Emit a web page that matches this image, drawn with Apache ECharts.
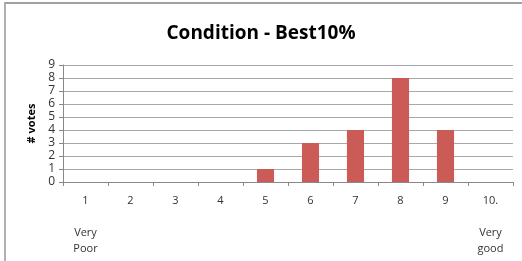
<!DOCTYPE html>
<html lang="en">
<head>
  <meta charset="UTF-8">
  <title>Condition - Best10%</title>
  <style>
    html,body{margin:0;padding:0;background:#fff;}
    #frame{
      position:absolute;left:4px;top:2px;width:518px;height:259px;
      border-top:2px solid #a0a0a0;border-left:2px solid #b0b0b0;
    }
    #main{position:absolute;left:0;top:0;width:522px;height:261px;}
  </style>
</head>
<body>
  <div id="frame"></div>
  <div id="main"></div>
  <script src="https://cdn.jsdelivr.net/npm/echarts@6/dist/echarts.min.js"></script>
  <script>
    const categories=['1\n\nVery\nPoor','2','3','4','5','6','7','8','9','10.\n\nVery\ngood'];
    const votes=[0,0,0,0,1,3,4,8,4,0];
    const yTicks=[0,1,2,3,4,5,6,7,8,9];

    const chart=echarts.init(document.querySelector('#main'));
    const font='"Open Sans", "Liberation Sans", sans-serif';
    chart.setOption({
      animation:false,
      title:{
        text:'Condition - Best10%',
        left:'center',
        top:19,
        textStyle:{fontFamily:font,fontSize:19,fontWeight:'bold',color:'#000'}
      },
      grid:{left:63,right:9,top:65,bottom:79,containLabel:false},
      xAxis:{
        type:'category',
        data:categories,
        axisLine:{lineStyle:{color:'#888'}},
        axisTick:{show:true,alignWithLabel:false,length:4,lineStyle:{color:'#888'}},
        axisLabel:{
          fontFamily:font,fontSize:11,color:'#333',margin:11,
          lineHeight:16,verticalAlign:'top',interval:0
        }
      },
      yAxis:{
        type:'value',
        min:yTicks[0],max:yTicks[yTicks.length-1],interval:1,
        name:'# votes',
        nameLocation:'middle',
        nameGap:21,
        nameRotate:90,
        nameTextStyle:{fontFamily:font,fontSize:11,fontWeight:'bold',color:'#000'},
        axisLine:{show:true,lineStyle:{color:'#888'}},
        axisTick:{show:true,length:4,inside:false,lineStyle:{color:'#888'}},
        axisLabel:{fontFamily:font,fontSize:12,color:'#333',margin:8},
        splitLine:{lineStyle:{color:'#a8a8a8'}}
      },
      series:[{
        type:'bar',
        data:votes,
        barWidth:'38%',
        itemStyle:{color:'#cb5b56'}
      }]
    });
  </script>
</body>
</html>
